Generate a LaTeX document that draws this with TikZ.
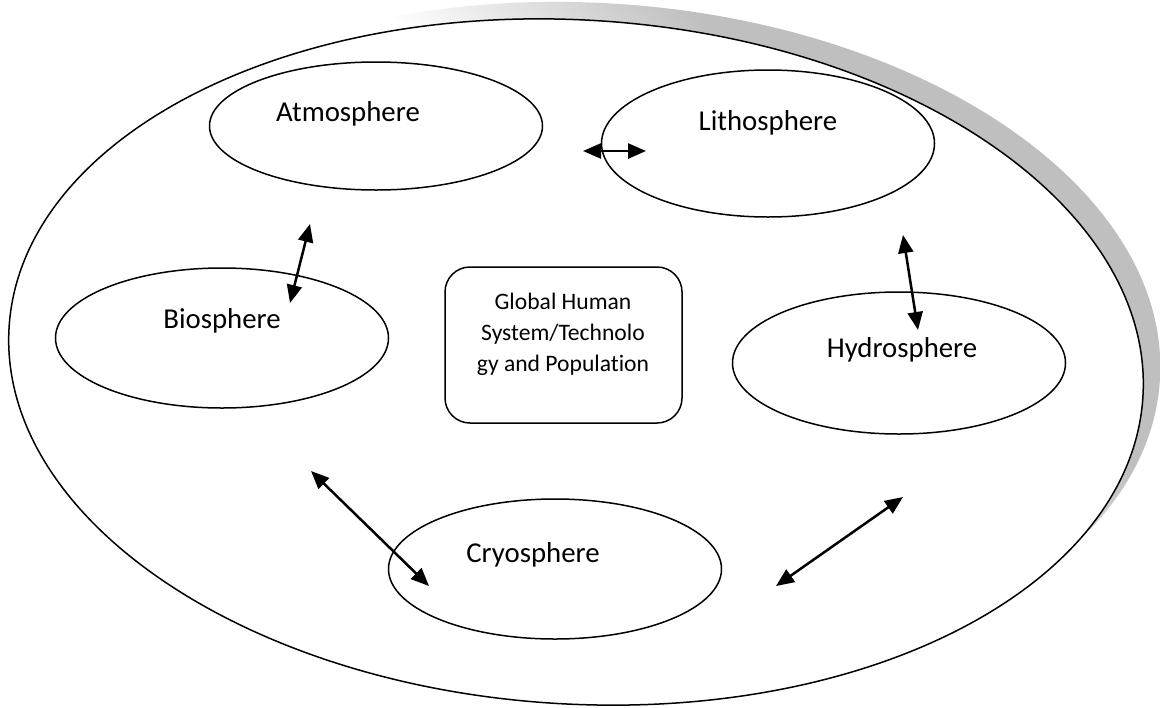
\documentclass[tikz,border=0pt]{standalone}
\usepackage{fontspec}
\setmainfont[Ligatures=NoCommon,RawFeature=-liga]{Carlito}
\usetikzlibrary{arrows.meta,shapes.geometric}
\pgfdeclarehorizontalshading{shfade}{100bp}{color(0bp)=(white); color(54bp)=(white); color(66bp)=(black!25); color(100bp)=(black!25)}
\begin{document}
\begin{tikzpicture}[x=0.5pt,y=-0.5pt,
  sphere/.style={draw, ellipse, line width=0.75pt, inner sep=0pt, minimum width=166.5pt, minimum height=68pt},
  lbl/.style={anchor=base, inner sep=0pt, font=\fontsize{14.4}{17}\selectfont},
  conn/.style={{Triangle[length=9pt,width=7.5pt]}-{Triangle[length=9pt,width=7.5pt]}, line width=1.25pt}
]
\useasboundingbox (0,0) rectangle (1161,707);
% outer ellipse with its shadow
\shade[shading=shfade, shading angle=44] (593,345) ellipse [x radius=284pt, y radius=171pt, rotate=-3.5];
\draw[fill=white, line width=0.75pt] (576,362) ellipse [x radius=284pt, y radius=171pt, rotate=-3.5];
% spheres
\node (atmo)  [sphere, minimum height=64pt] at (376,126) {};
\node (litho) [sphere, minimum height=73.5pt] at (768,143.5) {};
\node (bio)   [sphere, minimum height=70pt] at (222,338) {};
\node (hydro) [sphere, minimum height=71pt] at (899,363) {};
\node (cryo)  [sphere, minimum height=70pt] at (555,569) {};
% labels
\node (atmoT)  [lbl] at (348,121) {Atmosphere};
\node (lithoT) [lbl] at (768,130) {Lithosphere};
\node (bioT)   [lbl] at (222,328) {Biosphere};
\node (hydroT) [lbl] at (902,357) {Hydrosphere};
\node (cryoT)  [lbl] at (533,562) {Cryosphere};
% central box
\node (ghs) [draw, line width=0.75pt, rounded corners=12.5pt, minimum width=118.5pt, minimum height=78pt] at (563.5,345) {};
\node (ghsT) [align=center, inner sep=0pt, font=\fontsize{11.8}{15.5}\selectfont] at (563,334) {Global Human\\System/Technolo\\gy and Population};
% arrow end points
\coordinate (a1) at (583,151); \coordinate (a2) at (646,151);
\coordinate (b1) at (310,224); \coordinate (b2) at (290,303);
\coordinate (c1) at (903,235); \coordinate (c2) at (918,330);
\coordinate (d1) at (311,471); \coordinate (d2) at (429,586);
\coordinate (e1) at (903,497); \coordinate (e2) at (776,586);
\draw[conn] (a1) -- (a2);
\draw[conn] (b1) -- (b2);
\draw[conn] (c1) -- (c2);
\draw[conn] (d1) -- (d2);
\draw[conn] (e1) -- (e2);
\end{tikzpicture}
\end{document}
